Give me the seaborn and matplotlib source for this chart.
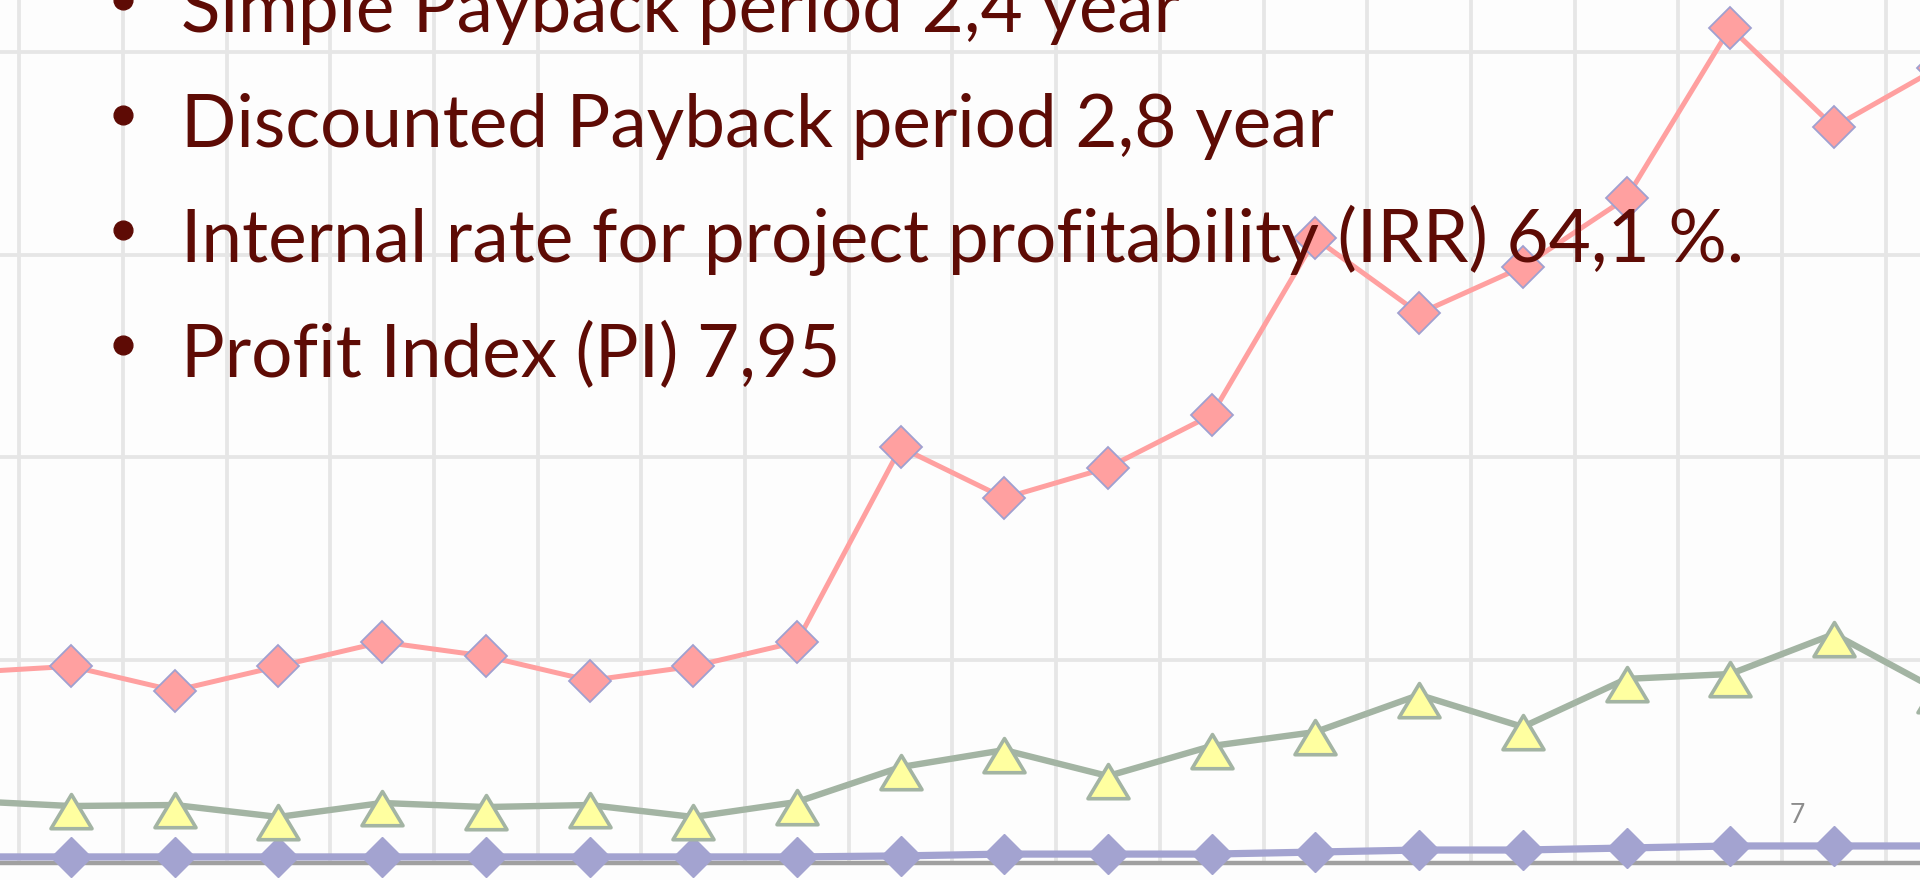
import numpy as np
import pandas as pd
import matplotlib.pyplot as plt
from matplotlib.lines import Line2D
from matplotlib.path import Path
import seaborn as sns

# periods -1 and 18 lie just outside the visible window, so the lines run off both edges
periods = list(range(-1, 19))

income = [940, 970, 850, 970, 1090, 1020, 900, 970, 1090, 2050,
          1800, 1950, 2210, 3080, 2710, 2940, 3280, 4120, 3630, 3920]
costs = [306, 281, 286, 227, 296, 276, 286, 227, 301, 473,
         557, 429, 577, 646, 829, 671, 908, 932, 1129, 853]
base = [30, 30, 30, 30, 30, 30, 30, 30, 30, 35,
        44, 44, 44, 54, 64, 64, 74, 84, 84, 84]

bullets = ['Simple Payback period 2,4 year',
           'Discounted Payback period 2,8 year',
           'Internal rate for project profitability (IRR) 64,1 %.',
           'Profit Index (PI) 7,95']
slide_no = '7'

BG = '#FDFDFD'
TXT = '#5E0B05'
GRID = '#E6E6E6'
AXIS = '#A0A0A0'

sns.set_style('white')
plt.rcParams['font.family'] = ['Lato', 'DejaVu Sans']

df = pd.DataFrame({'period': periods, 'income': income, 'costs': costs, 'base': base})

fig = plt.figure(figsize=(19.2, 8.8), dpi=100, facecolor=BG)
ax = fig.add_axes([0, 17 / 880, 1, 863 / 880])
ax.set_facecolor(BG)

# triangle sits a bit below its data point, like the original markers
tri = Path([(-1.2, -1.3), (1.2, -1.3), (0, 0.7), (-1.2, -1.3)], closed=True)

sns.lineplot(data=df, x='period', y='base', ax=ax, color='#A3A3D0', linewidth=5.2,
             marker='D', markersize=20, markerfacecolor='#A3A3D0',
             markeredgecolor='#A3A3D0', markeredgewidth=1,
             errorbar=None, clip_on=False, zorder=3)
sns.lineplot(data=df, x='period', y='costs', ax=ax, color='#A3B4A3', linewidth=4.6,
             marker=tri, markersize=32, markerfacecolor='#FFFFA0',
             markeredgecolor='#A3B4A3', markeredgewidth=2.6,
             errorbar=None, clip_on=False, zorder=3)
sns.lineplot(data=df, x='period', y='income', ax=ax, color='#FFA0A0', linewidth=3.6,
             marker='D', markersize=21, markerfacecolor='#FFA0A0',
             markeredgecolor='#A0A0D0', markeredgewidth=1.3,
             errorbar=None, clip_on=False, zorder=3)

ax.set_xlim(-0.6847, 17.830)
ax.set_ylim(0, 4256)
ax.set_xticks(np.arange(-0.5, 18.5, 1))
ax.set_yticks([0, 1000, 2000, 3000, 4000])
ax.set_axisbelow(True)
ax.grid(True, color=GRID, linewidth=2.7)
ax.tick_params(axis='x', direction='out', length=12.5, width=3.6, color=AXIS,
               labelbottom=False)
ax.tick_params(axis='y', length=0, labelleft=False)
ax.set_xlabel('')
ax.set_ylabel('')
for side in ['left', 'right', 'top']:
    ax.spines[side].set_visible(False)
ax.spines['bottom'].set_color(AXIS)
ax.spines['bottom'].set_linewidth(3.2)

# bullet list laid over the chart
for i, line in enumerate(bullets):
    base_y = 32 + 115 * i
    fig.text(181 / 1920, 1 - base_y / 880, line, fontsize=52.5, color=TXT,
             ha='left', va='baseline')
    fig.add_artist(Line2D([123 / 1920], [1 - (base_y - 32) / 880], marker='o',
                          linestyle='none', markersize=13.5, color=TXT,
                          transform=fig.transFigure))

fig.text(1797 / 1920, 1 - 823 / 880, slide_no, fontsize=19, color='#8C8C8C',
         ha='center', va='baseline')

fig.savefig('out.png', dpi=100, facecolor=BG)
